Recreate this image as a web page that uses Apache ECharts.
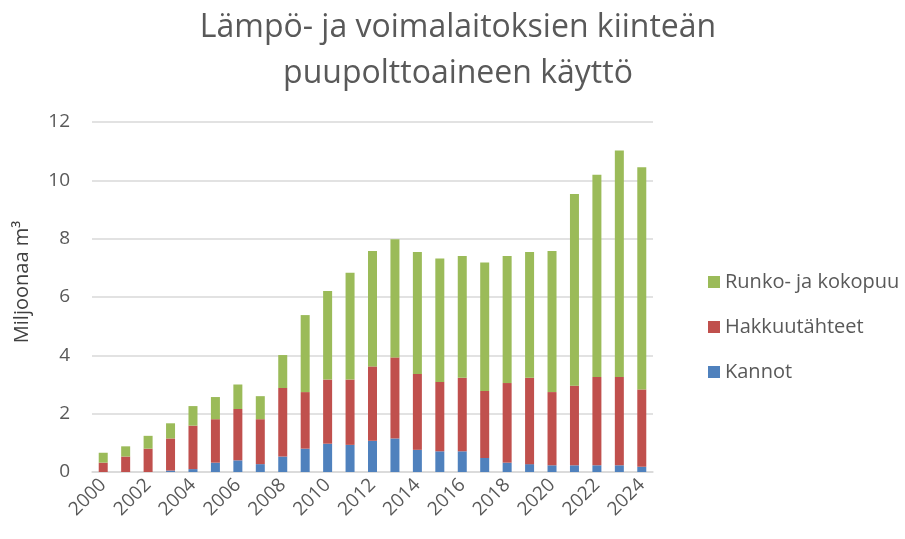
<!DOCTYPE html>
<html>
<head>
<meta charset="utf-8">
<script src="https://cdn.jsdelivr.net/npm/echarts@6/dist/echarts.min.js"></script>
<style>
html, body { margin: 0; padding: 0; background: #fff; }
#chart { width: 905px; height: 539px; }
</style>
</head>
<body>
<div id="chart"></div>
<script>
const years = ['2000', '2001', '2002', '2003', '2004', '2005', '2006', '2007', '2008', '2009',
    '2010', '2011', '2012', '2013', '2014', '2015', '2016', '2017', '2018', '2019',
    '2020', '2021', '2022', '2023', '2024']
// miljoonaa m3
const kannot = [0, 0, 0, 0.05, 0.10, 0.32, 0.40, 0.27, 0.53, 0.80, 0.97, 0.93, 1.07,
    1.15, 0.76, 0.71, 0.71, 0.48, 0.32, 0.27, 0.23, 0.23, 0.23, 0.23, 0.18]
const hakkuutahteet = [0.32, 0.53, 0.80, 1.10, 1.49, 1.49, 1.76, 1.54, 2.35, 1.94, 2.20, 2.24, 2.55,
    2.78, 2.60, 2.38, 2.52, 2.30, 2.73, 2.96, 2.51, 2.73, 3.03, 3.03, 2.65]
const runko = [0.34, 0.35, 0.44, 0.52, 0.67, 0.76, 0.84, 0.79, 1.13, 2.64, 3.04, 3.66, 3.96,
    4.05, 4.18, 4.23, 4.18, 4.40, 4.36, 4.31, 4.84, 6.57, 6.93, 7.76, 7.62]

const font = '"Open Sans", "Noto Sans", sans-serif'
const grey = '#595959'

let chart = echarts.init(document.getElementById('chart'))

let option = {
    animation: false,
    textStyle: { fontFamily: font },
    title: {
        text: 'Lämpö- ja voimalaitoksien kiinteän\npuupolttoaineen käyttö',
        left: 453,
        top: 0,
        textAlign: 'center',
        textStyle: {
            fontFamily: font,
            fontSize: 32,
            fontWeight: 'normal',
            color: grey,
            lineHeight: 46
        }
    },
    legend: {
        orient: 'vertical',
        left: 703,
        top: 267,
        itemWidth: 12,
        itemHeight: 12,
        itemGap: 25,
        icon: 'rect',
        textStyle: { fontSize: 20, color: grey, fontFamily: font },
        data: ['Runko- ja kokopuu', 'Hakkuutähteet', 'Kannot']
    },
    grid: {
        left: 92,
        right: 252,
        top: 122,
        bottom: 67
    },
    xAxis: {
        type: 'category',
        data: years,
        axisTick: { show: false },
        axisLine: { lineStyle: { color: '#d9d9d9', width: 1.5 } },
        axisLabel: {
            interval: 1,
            rotate: 45,
            fontSize: 19,
            color: grey,
            margin: 10
        }
    },
    yAxis: {
        type: 'value',
        min: 0,
        max: 12,
        interval: 2,
        name: 'Miljoonaa m³',
        nameLocation: 'middle',
        nameGap: 60,
        nameTextStyle: { fontSize: 20, color: '#404040', fontFamily: font, padding: [0, 0, 0, 30] },
        axisLine: { show: false },
        axisTick: { show: false },
        axisLabel: { fontSize: 19, color: grey, margin: 22 },
        splitLine: { lineStyle: { color: '#d9d9d9', width: 1.5 } }
    },
    series: [
        {
            name: 'Kannot',
            type: 'bar',
            stack: 'puu',
            barWidth: 9,
            itemStyle: { color: '#4F81BD' },
            data: kannot
        },
        {
            name: 'Hakkuutähteet',
            type: 'bar',
            stack: 'puu',
            barWidth: 9,
            itemStyle: { color: '#C0504D' },
            data: hakkuutahteet
        },
        {
            name: 'Runko- ja kokopuu',
            type: 'bar',
            stack: 'puu',
            barWidth: 9,
            itemStyle: { color: '#9BBB59' },
            data: runko
        }
    ]
}
chart.setOption(option)
</script>
</body>
</html>
